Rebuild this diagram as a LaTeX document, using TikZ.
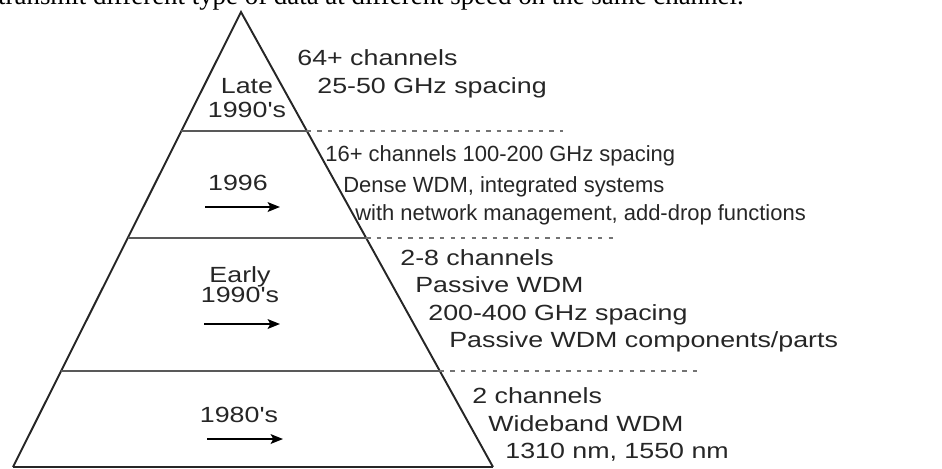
\documentclass[tikz,border=0pt]{standalone}
\usepackage{fontspec}
\setmainfont{Liberation Sans}
\newfontfamily\widesans[FakeStretch=1.22]{Liberation Sans}
\newfontfamily\capserif{Liberation Serif}
\usetikzlibrary{arrows, arrows.meta, calc}

\begin{document}
\begin{tikzpicture}[x=0.02cm, y=-0.02cm]
\tikzstyle{every node}+=[inner sep=0pt]
\tikzstyle{side}=[black!85, line width=1.1pt]
\tikzstyle{tier}=[black!65, line width=1.4pt]
\tikzstyle{lead}=[black!55, line width=0.9pt, dash pattern=on 2.5pt off 3.5pt]
\tikzstyle{era}=[anchor=base, text=black!85, font=\widesans\fontsize{12.5}{14}\selectfont]
\tikzstyle{spec}=[anchor=base west, text=black!85, font=\widesans\fontsize{12.5}{14}\selectfont]
\tikzstyle{specnarrow}=[anchor=base west, text=black!85, font=\fontsize{12.5}{14}\selectfont]
\tikzstyle{eraarrow}=[-{Stealth[length=7pt,width=5.5pt,inset=1.5pt]}, black, line width=1.1pt]
\useasboundingbox (0,0) rectangle (942,468);
\clip (0,0) rectangle (942,468);
% line of the page above, cut off
\node[anchor=base east, font=\capserif\fontsize{15.3}{17}\selectfont] (cap) at (744,4) {transmit different type of data at different speed on the same channel.};
% pyramid
\coordinate (apex) at (241,12);
\coordinate (lb) at (13,467);
\coordinate (rb) at (493,467);
\draw [side] (lb) -- (apex) -- (rb);
\draw [side] (lb) -- (rb);
\coordinate (t1l) at ($(apex)!0.2615!(lb)$);
\coordinate (t1r) at ($(apex)!0.2615!(rb)$);
\coordinate (t2l) at ($(apex)!0.4967!(lb)$);
\coordinate (t2r) at ($(apex)!0.4967!(rb)$);
\coordinate (t3l) at ($(apex)!0.789!(lb)$);
\coordinate (t3r) at ($(apex)!0.789!(rb)$);
\draw [tier] (t1l) -- (t1r);
\draw [tier] (t2l) -- (t2r);
\draw [tier] (t3l) -- (t3r);
\coordinate (d1) at ($(t1r)+(256,0)$);
\coordinate (d2) at ($(t2r)+(249,0)$);
\coordinate (d3) at ($(t3r)+(257,0)$);
\draw [lead] (t1r) -- (d1);
\draw [lead] (t2r) -- (d2);
\draw [lead] (t3r) -- (d3);
% eras
\node [era] (late) at (247,93) {Late};
\node [era] (late90) at (247,117) {1990's};
\node [era] (y96) at (238,190) {1996};
\node [era] (early) at (240,282) {Early};
\node [era] (early90) at (240,302) {1990's};
\node [era] (y80) at (239,422) {1980's};
\coordinate (a96s) at (205,207);
\coordinate (a96e) at (280,207);
\coordinate (a90s) at (204,324);
\coordinate (a90e) at (280,324);
\coordinate (a80s) at (207,439);
\coordinate (a80e) at (283,439);
\draw [eraarrow] (a96s) -- (a96e);
\draw [eraarrow] (a90s) -- (a90e);
\draw [eraarrow] (a80s) -- (a80e);
% channel notes
\node [spec] (s1a) at (297,65) {64+ channels};
\node [spec] (s1b) at (317,93) {25-50 GHz spacing};
\node [specnarrow] (s2a) at (325,161) {16+ channels 100-200 GHz spacing};
\node [specnarrow] (s2b) at (343,192) {Dense WDM, integrated systems};
\node [specnarrow] (s2c) at (355,220) {with network management, add-drop functions};
\node [spec] (s3a) at (400,265) {2-8 channels};
\node [spec] (s3b) at (415,292) {Passive WDM};
\node [spec] (s3c) at (428,320) {200-400 GHz spacing};
\node [spec] (s3d) at (449,347) {Passive WDM components/parts};
\node [spec] (s4a) at (472,403) {2 channels};
\node [spec] (s4b) at (488,431) {Wideband WDM};
\node [spec] (s4c) at (505,458) {1310 nm, 1550 nm};
\end{tikzpicture}
\end{document}
